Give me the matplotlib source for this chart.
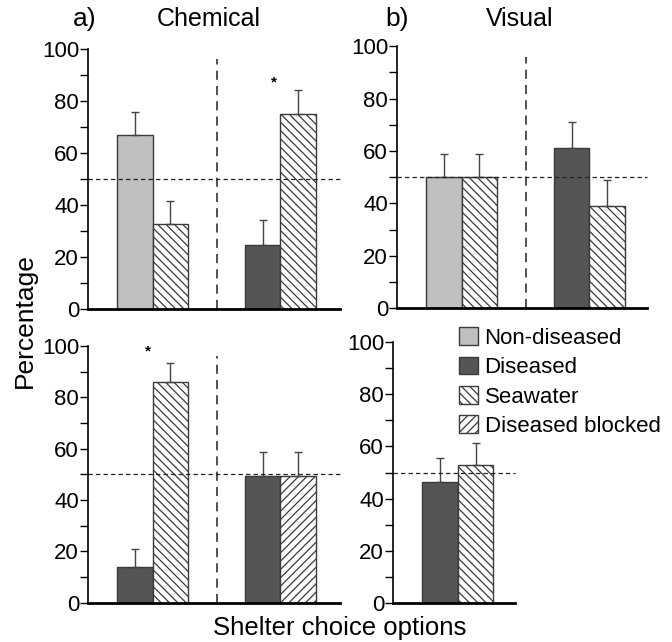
import numpy as np
import matplotlib.pyplot as plt
from matplotlib.patches import Patch

plt.rcParams['font.family'] = ['Liberation Sans', 'DejaVu Sans']
plt.rcParams['hatch.linewidth'] = 0.9

# data (percent choosing each shelter, SE above bar)
chem_top_kinds = ['Non-diseased', 'Seawater', 'Diseased', 'Seawater']
chem_top_vals = [67, 32.5, 24.5, 75]
chem_top_errs = [8.5, 9, 9.5, 9]

chem_bot_kinds = ['Diseased', 'Seawater', 'Diseased', 'Diseased blocked']
chem_bot_vals = [14, 86, 49.5, 49.5]
chem_bot_errs = [7, 7.5, 9.3, 9.3]

vis_top_kinds = ['Non-diseased', 'Seawater', 'Diseased', 'Seawater']
vis_top_vals = [50, 50, 61, 39]
vis_top_errs = [9, 9, 10, 10]

vis_bot_kinds = ['Diseased', 'Seawater']
vis_bot_vals = [46.5, 53]
vis_bot_errs = [9, 8.5]

legend_labels = ['Non-diseased', 'Diseased', 'Seawater', 'Diseased blocked']

# look of each bar type
styles = {
    'Non-diseased': dict(facecolor='#c0c0c0', hatch=None),
    'Diseased': dict(facecolor='#555555', hatch=None),
    'Seawater': dict(facecolor='white', hatch='\\\\\\\\'),
    'Diseased blocked': dict(facecolor='white', hatch='////'),
}

EDGE = '#3a3a3a'
W = 1.0


def draw_panel(ax, kinds, vals, errs, xmax, star=None, divider=True):
    # two bars per group, groups start at 0.82 and 4.42
    starts = [0.82, 4.42]
    xs = []
    for i in range(len(vals)):
        g = i // 2
        xs.append(starts[g] + (i % 2) * W + W / 2)
    for x, k, v, e in zip(xs, kinds, vals, errs):
        st = styles[k]
        ax.bar(x, v, width=W, color=st['facecolor'], hatch=st['hatch'],
               edgecolor=EDGE, linewidth=1.0, zorder=2)
        ax.errorbar(x, v, yerr=[[0], [e]], fmt='none', ecolor='#444444',
                    elinewidth=1.0, capsize=3, capthick=1.0, zorder=3)
    ax.plot([0, xmax], [50, 50], ls=(0, (3.5, 2.5)), color='#222222',
            lw=0.9, zorder=4, clip_on=False)
    if divider:
        ax.plot([3.63, 3.63], [0, 96], ls=(0, (6, 4)), color='#222222',
                lw=1.1, zorder=1)
    if star is not None:
        ax.text(star[0], star[1], '*', ha='center', va='center',
                fontsize=11, fontweight='bold')
    ax.set_xlim(0, xmax)
    ax.set_ylim(0, 100)
    ax.set_xticks([])
    ax.set_yticks(np.arange(0, 101, 20))
    ax.set_yticks(np.arange(10, 100, 20), minor=True)
    ax.tick_params(axis='y', which='both', direction='out', length=6,
                   width=1.0, labelsize=16, pad=0.5)
    for s in ['top', 'right']:
        ax.spines[s].set_visible(False)
    ax.spines['left'].set_linewidth(1.2)
    ax.spines['bottom'].set_linewidth(2.0)


fig = plt.figure(figsize=(6.72, 6.42), dpi=100)

ax1 = fig.add_axes([0.131, 0.519, 0.375, 0.405])
draw_panel(ax1, chem_top_kinds, chem_top_vals, chem_top_errs, 7.1,
           star=(5.25, 87))

ax2 = fig.add_axes([0.591, 0.520, 0.372, 0.408])
draw_panel(ax2, vis_top_kinds, vis_top_vals, vis_top_errs, 7.05)

ax3 = fig.add_axes([0.131, 0.061, 0.375, 0.400])
draw_panel(ax3, chem_bot_kinds, chem_bot_vals, chem_bot_errs, 7.1,
           star=(1.7, 98))

ax4 = fig.add_axes([0.585, 0.061, 0.182, 0.406])
draw_panel(ax4, vis_bot_kinds, vis_bot_vals, vis_bot_errs, 3.44,
           divider=False)

fig.text(0.108, 0.971, 'a)', fontsize=19, va='center', ha='left')
fig.text(0.31, 0.971, 'Chemical', fontsize=18, va='center', ha='center')
fig.text(0.573, 0.971, 'b)', fontsize=19, va='center', ha='left')
fig.text(0.774, 0.971, 'Visual', fontsize=18, va='center', ha='center')

fig.text(0.037, 0.50, 'Percentage', fontsize=19, rotation=90,
         va='center', ha='center')
fig.text(0.506, 0.022, 'Shelter choice options', fontsize=18.5,
         va='center', ha='center')

handles = [Patch(facecolor=styles[k]['facecolor'], hatch=styles[k]['hatch'],
                 edgecolor=EDGE, linewidth=1.0) for k in legend_labels]
fig.legend(handles, legend_labels, loc='upper left',
           bbox_to_anchor=(0.683, 0.49), frameon=False, fontsize=16,
           handlelength=0.85, handleheight=0.85, handletextpad=0.3,
           labelspacing=0.35, borderpad=0, borderaxespad=0)

fig.savefig('out.png', dpi=100)
